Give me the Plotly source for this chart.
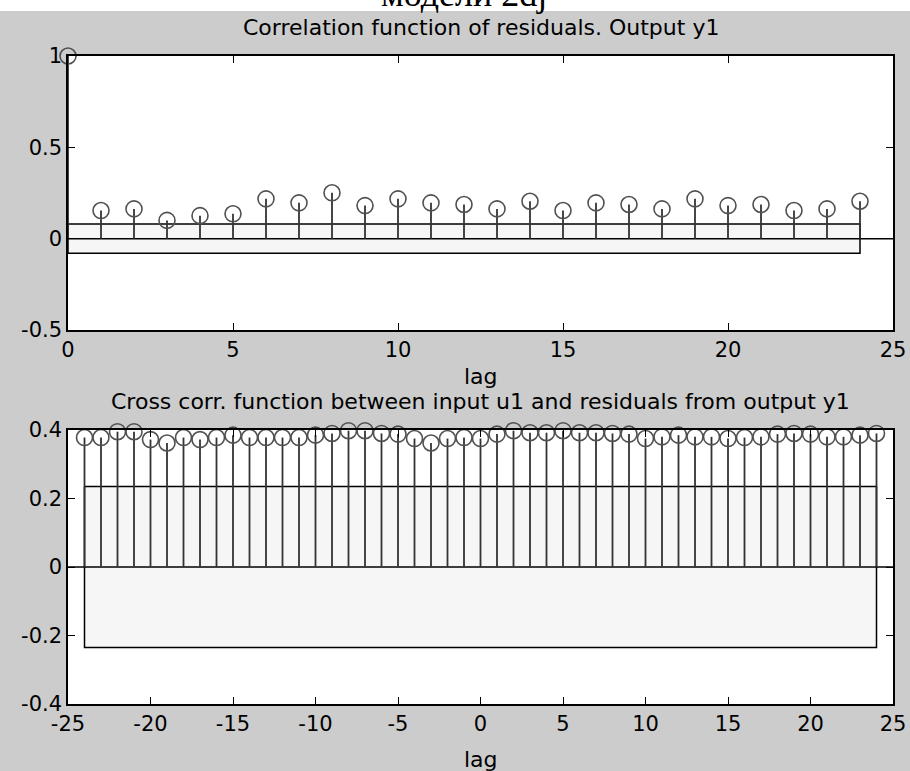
import plotly.graph_objects as go

# Autocorrelation of residuals, output y1 (lags 0..24)
auto_lags = list(range(0, 25))
auto_vals = [1.0, 0.154, 0.163, 0.10, 0.126, 0.136, 0.218, 0.196, 0.251, 0.181,
             0.218, 0.196, 0.187, 0.163, 0.205, 0.154, 0.196, 0.187, 0.163, 0.218,
             0.181, 0.187, 0.154, 0.163, 0.205]
auto_conf = 0.08

# Cross correlation between input u1 and residuals (lags -24..24)
cross_lags = list(range(-24, 25))
cross_vals = [0.378, 0.378, 0.395, 0.395, 0.372, 0.362, 0.378, 0.372, 0.378, 0.385,
              0.378, 0.378, 0.378, 0.378, 0.385, 0.390, 0.398, 0.398, 0.390, 0.388,
              0.375, 0.362, 0.375, 0.378, 0.375, 0.388, 0.398, 0.392, 0.392, 0.398,
              0.392, 0.392, 0.390, 0.388, 0.375, 0.380, 0.385, 0.380, 0.380, 0.375,
              0.378, 0.380, 0.388, 0.390, 0.388, 0.380, 0.380, 0.385, 0.390]
cross_conf = 0.235

auto_xticks = [0, 5, 10, 15, 20, 25]
auto_yticks = [-0.5, 0, 0.5, 1]
auto_yticktext = ["-0.5", "0", "0.5", "1"]
cross_xticks = [-25, -20, -15, -10, -5, 0, 5, 10, 15, 20, 25]
cross_xticktext = ["-25", "-20", "-15", "-10", "-5", "0", "5", "10", "15", "20", "25"]
cross_yticks = [-0.4, -0.2, 0, 0.2, 0.4]
cross_yticktext = ["-0.4", "-0.2", "0", "0.2", "0.4"]

W, H = 910, 771
BG = "#cccccc"
STEM = "#333333"
MARK = "#505050"
BAND = "#f6f6f6"
FONT = "DejaVu Sans"


def py(p):
    """pixel row -> paper y"""
    return 1 - p / H


def px(p):
    return p / W


fig = go.Figure()


def add_panel(lags, vals, conf, xa, ya, xr):
    lo, hi = min(lags), max(lags)
    # confidence band
    fig.add_trace(go.Scatter(
        x=[lo, hi, hi, lo, lo], y=[conf, conf, -conf, -conf, conf],
        mode="lines", fill="toself", fillcolor=BAND,
        line=dict(color="black", width=1.5), xaxis=xa, yaxis=ya,
        hoverinfo="skip", showlegend=False))
    # zero baseline across the whole axis
    fig.add_trace(go.Scatter(
        x=[xr[0], xr[1]], y=[0, 0], mode="lines",
        line=dict(color="black", width=1.5), xaxis=xa, yaxis=ya,
        hoverinfo="skip", showlegend=False))
    # stems
    sx, sy = [], []
    for k, v in zip(lags, vals):
        sx += [k, k, None]
        sy += [0, v, None]
    fig.add_trace(go.Scatter(
        x=sx, y=sy, mode="lines", line=dict(color=STEM, width=1.8),
        xaxis=xa, yaxis=ya, hoverinfo="skip", showlegend=False))
    # stem heads
    fig.add_trace(go.Scatter(
        x=lags, y=vals, mode="markers", cliponaxis=False,
        marker=dict(symbol="circle-open", size=16, color=MARK,
                    line=dict(color=MARK, width=1.6)),
        xaxis=xa, yaxis=ya, showlegend=False))


add_panel(auto_lags, auto_vals, auto_conf, "x", "y", [0, 25])
add_panel(cross_lags, cross_vals, cross_conf, "x2", "y2", [-25, 25])

axis_common = dict(showline=True, linecolor="black", linewidth=1.5, mirror="ticks",
                   ticks="inside", ticklen=7, tickwidth=1.2, tickcolor="black",
                   showgrid=False, zeroline=False, automargin=False,
                   tickfont=dict(family=FONT, size=21, color="black"))

fig.update_layout(
    width=W, height=H,
    margin=dict(l=0, r=0, t=0, b=0),
    paper_bgcolor=BG, plot_bgcolor="white",
    showlegend=False,
    xaxis=dict(domain=[px(68), px(893)], range=[0, 25], tickvals=auto_xticks,
               anchor="y", **axis_common),
    yaxis=dict(domain=[py(330), py(56)], range=[-0.5, 1], tickvals=auto_yticks,
               ticktext=auto_yticktext, anchor="x", **axis_common),
    xaxis2=dict(domain=[px(68), px(893)], range=[-25, 25], tickvals=cross_xticks,
                ticktext=cross_xticktext, anchor="y2", **axis_common),
    yaxis2=dict(domain=[py(704), py(430)], range=[-0.4, 0.4], tickvals=cross_yticks,
                ticktext=cross_yticktext, anchor="x2", **axis_common),
    shapes=[dict(type="rect", xref="paper", yref="paper", x0=0, x1=1,
                 y0=py(11), y1=1.02, fillcolor="white", line=dict(width=0),
                 layer="below")],
)

ann_font = dict(family=FONT, size=22, color="black")
# page heading above the figure, only its lower part falls inside the frame
fig.add_annotation(text="модели 2dj", xref="paper", yref="paper", x=px(464), y=py(16),
                   xanchor="center", yanchor="bottom", showarrow=False,
                   font=dict(family="Liberation Serif", size=36, color="black"))
fig.add_annotation(text="Correlation function of residuals. Output y1", xref="paper",
                   yref="paper", x=px(480.5), y=py(28), xanchor="center",
                   yanchor="middle", showarrow=False, font=ann_font)
fig.add_annotation(text="lag", xref="paper", yref="paper", x=px(480.5), y=py(376),
                   xanchor="center", yanchor="middle", showarrow=False, font=ann_font)
fig.add_annotation(text="Cross corr. function between input u1 and residuals from output y1",
                   xref="paper", yref="paper", x=px(480.5), y=py(401), xanchor="center",
                   yanchor="middle", showarrow=False, font=ann_font)
fig.add_annotation(text="lag", xref="paper", yref="paper", x=px(480.5), y=py(759),
                   xanchor="center", yanchor="middle", showarrow=False, font=ann_font)

fig.write_html("out.html")
